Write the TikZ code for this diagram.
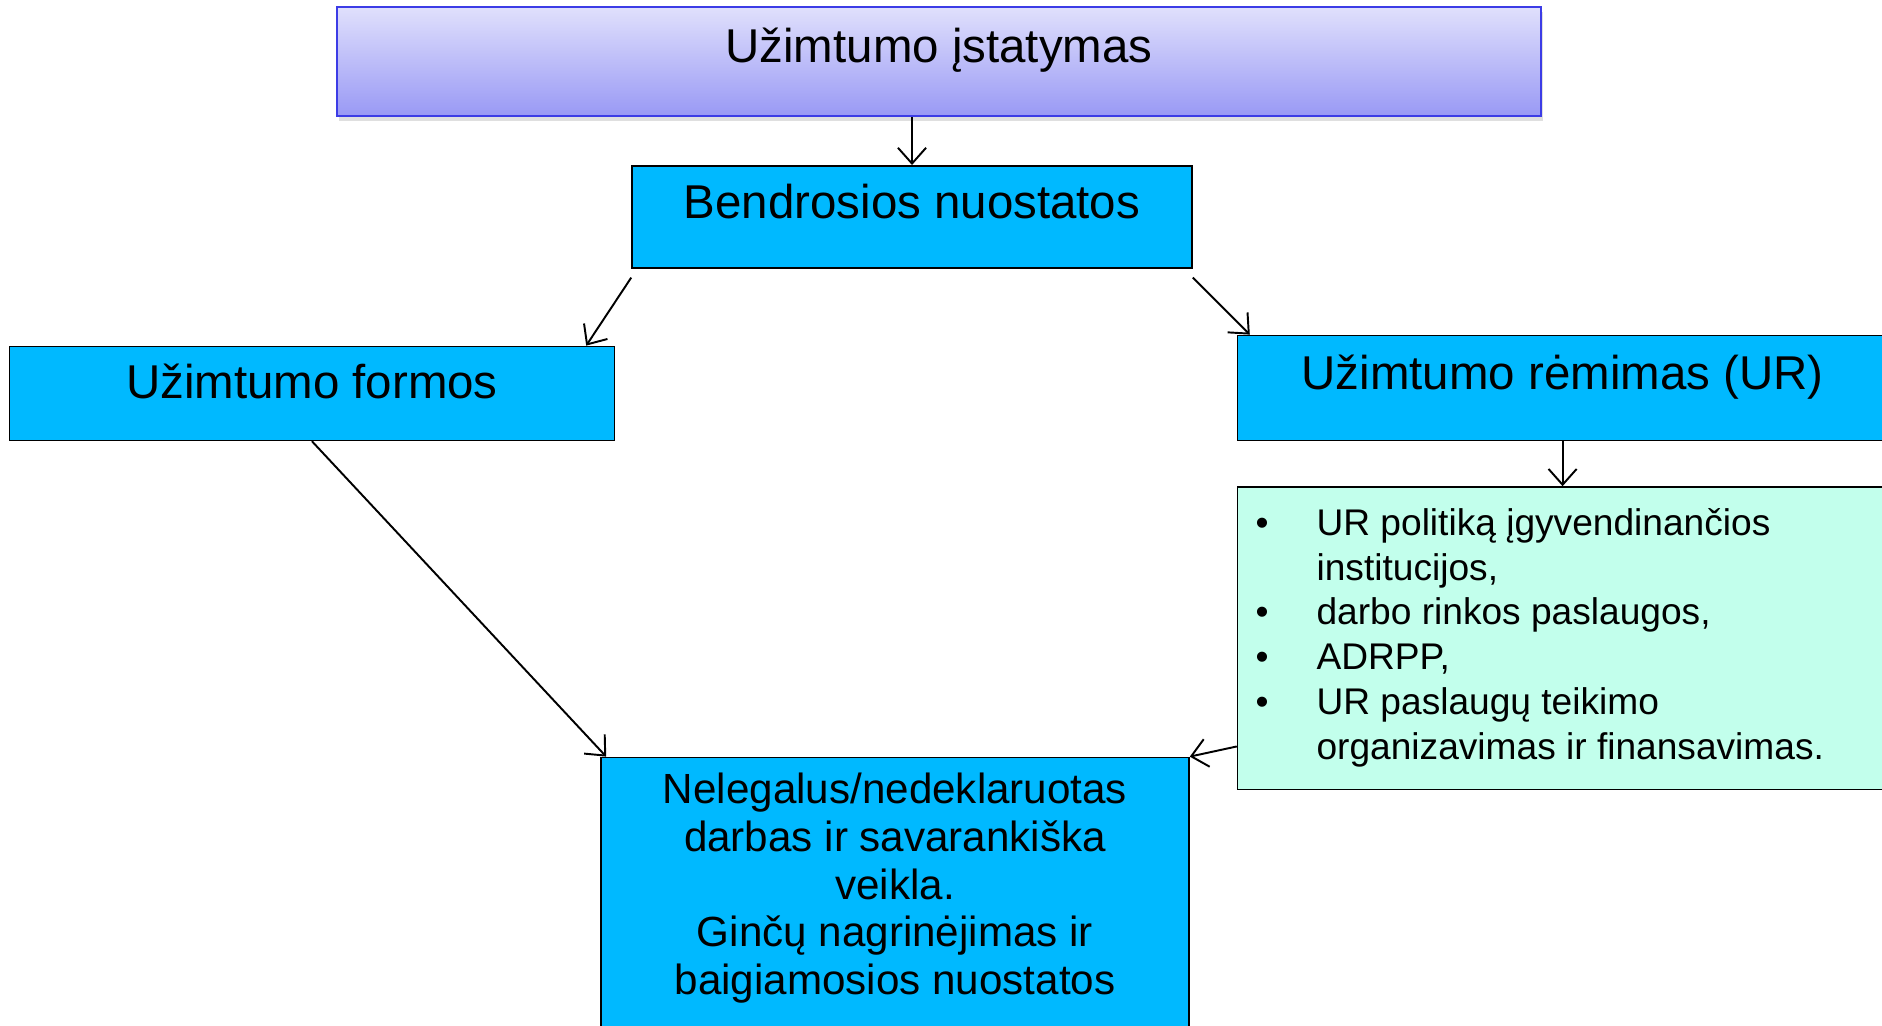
\documentclass[tikz,border=0pt]{standalone}
\usepackage{fontspec}
\setmainfont{Liberation Sans}
\usetikzlibrary{
    arrows.meta,
    positioning,
    shadows
}
\definecolor{chaptercyan}{RGB}{0,185,255}
\definecolor{measuremint}{RGB}{194,255,236}
\definecolor{lawtop}{RGB}{224,224,252}
\definecolor{lawbottom}{RGB}{153,153,245}
\definecolor{lawedge}{RGB}{60,60,230}
\tikzset{
    lawbox/.style={
        rectangle,
        draw=lawedge,
        line width=0.6pt,
        top color=lawtop,
        bottom color=lawbottom,
        inner sep=0pt,
        drop shadow={shadow xshift=0.02cm, shadow yshift=-0.05cm, opacity=0.25},
        font=\fontsize{13.5}{16}\selectfont
    },
    chapter/.style={
        rectangle,
        draw,
        line width=0.45pt,
        fill=chaptercyan,
        inner sep=0pt,
        font=\fontsize{13.5}{16}\selectfont
    },
    lastchapter/.style={
        chapter,
        align=center,
        font=\fontsize{12}{13.56}\selectfont
    },
    measures/.style={
        rectangle,
        draw,
        line width=0.45pt,
        fill=measuremint,
        inner xsep=0.18cm,
        inner ysep=0.17cm,
        font=\fontsize{10.56}{12.74}\selectfont
    },
    link/.style={
        -{Straight Barb[length=4.5pt,width=8pt]},
        line width=0.55pt
    }
}

\begin{document}
\begin{tikzpicture}
        \clip (0,0) rectangle (18.82,-10.26);

        % Law (title)
        \node [lawbox, minimum width=12.04cm, text height=0.56cm, text depth=0.53cm]
            (law) at (9.39,-0.615) {Užimtumo įstatymas};

        % General provisions
        \node [chapter, below=0.48cm of law, xshift=-0.27cm, minimum width=5.6cm,
            text height=0.53cm, text depth=0.49cm] (general) {Bendrosios nuostatos};

        % Forms of employment
        \node [chapter, below left=0.77cm and 0.16cm of general, minimum width=6.05cm,
            text height=0.52cm, text depth=0.42cm] (forms) {Užimtumo formos};

        % Employment support (UR)
        \node [chapter, below right=0.66cm and 0.44cm of general, minimum width=6.5cm,
            text height=0.54cm, text depth=0.51cm] (support) {Užimtumo rėmimas (UR)};

        % UR measures
        \node [measures, below=0.45cm of support, minimum width=6.5cm] (measures) {%
            \begin{tabular}{@{}p{0.61cm}@{}p{5.53cm}@{}}
                \textbullet & UR politiką įgyvendinančios\\
                            & institucijos,\\
                \textbullet & darbo rinkos paslaugos,\\
                \textbullet & ADRPP,\\
                \textbullet & UR paslaugų teikimo\\
                            & organizavimas ir finansavimas.
            \end{tabular}%
        };

        % Final chapters (baseline = last line)
        \node [lastchapter, below=4.88cm of general, xshift=-0.17cm, minimum width=5.88cm,
            text height=2.37cm, text depth=1.0cm] (final) {
            Nelegalus/nedeklaruotas\\
            darbas ir savarankiška\\
            veikla.\\
            Ginčų nagrinėjimas ir\\
            baigiamosios nuostatos
        };

        % Links
        \draw [link] (general.north |- law.south) -- (general.north);
        \draw [link] ([yshift=-0.09cm]general.south west) -- ([xshift=-0.29cm]forms.north east);
        \draw [link] ([yshift=-0.09cm]general.south east) -- ([xshift=0.13cm]support.north west);
        \draw [link] (forms.south) -- ([xshift=0.06cm]final.north west);
        \draw [link] (support.south) -- (measures.north);
        \draw [link] ([yshift=0.44cm]measures.south west) -- (final.north east);
    \end{tikzpicture}
\end{document}
